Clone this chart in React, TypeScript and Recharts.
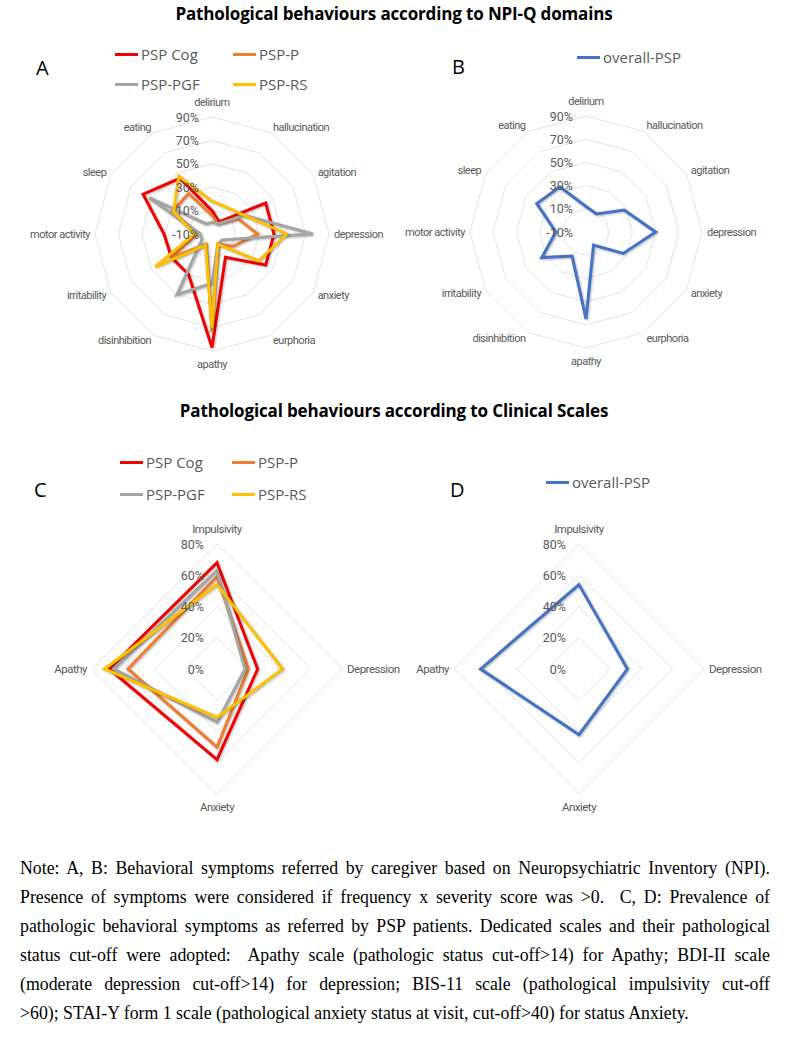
import React from "react";
import {
  RadarChart,
  Radar,
  PolarGrid,
  PolarAngleAxis,
  PolarRadiusAxis,
} from "recharts";

// NPI-Q domains (panels A, B), clockwise from the top
const npiDomains = [
  "delirium",
  "hallucination",
  "agitation",
  "depression",
  "anxiety",
  "eurphoria",
  "apathy",
  "disinhibition",
  "irritability",
  "motor activity",
  "sleep",
  "eating",
];
const npiCog = [10, 2, 43, 43, 43, 13, 87, 30, 30, 31, 58, 45];
const npiP = [6, 0, 16, 29, 11, 0, 74, 0, 31, 3, 29, 30];
const npiPGF = [0, 0, 22, 76, 0, 0, 32, 50, 0, 0, 52, 0];
const npiRS = [18, 16, 22, 54, 36, 0, 70, 1, 46, 5, 28, 47];
const npiOverall = [12, 8, 28, 50, 27, 3, 65, 14, 34, 16, 39, 35];
const npiTicks = [-10, 10, 30, 50, 70, 90];

// clinical scales (panels C, D)
const scaleItems = ["Impulsivity", "Depression", "Anxiety", "Apathy"];
const scaleCog = [68, 26, 58, 69];
const scaleP = [59, 20, 50, 57];
const scalePGF = [63, 18, 34, 66];
const scaleRS = [54, 42, 31, 72];
const scaleOverall = [54, 31, 42, 63];
const scaleTicks = [0, 20, 40, 60, 80];

const subtypes = [
  { key: "cog", name: "PSP Cog", color: "#f00000" },
  { key: "p", name: "PSP-P", color: "#ed7d31" },
  { key: "pgf", name: "PSP-PGF", color: "#a5a5a5" },
  { key: "rs", name: "PSP-RS", color: "#ffc000" },
];
const overall = [{ key: "all", name: "overall-PSP", color: "#4472c4" }];

const npiData = npiDomains.map((d, i) => ({
  label: d,
  cog: npiCog[i],
  p: npiP[i],
  pgf: npiPGF[i],
  rs: npiRS[i],
  all: npiOverall[i],
}));
const scaleData = scaleItems.map((d, i) => ({
  label: d,
  cog: scaleCog[i],
  p: scaleP[i],
  pgf: scalePGF[i],
  rs: scaleRS[i],
  all: scaleOverall[i],
}));

const GREY_TEXT = "#595959";

function makeAngleTick(cx: number, cy: number, r: number, size: number) {
  return (props: any) => {
    const { x, y, payload } = props;
    const dx = x - cx;
    const dy = y - cy;
    const len = Math.hypot(dx, dy) || 1;
    const ux = dx / len;
    const uy = dy / len;
    const px = cx + ux * (r + 5);
    const py = cy + uy * (r + 5);
    const mid = Math.abs(ux) < 0.05;
    const anchor = mid ? "middle" : ux > 0 ? "start" : "end";
    const shift = mid ? (uy < 0 ? -10 : 8) : uy * 1.5;
    return (
      <text
        x={px}
        y={py + shift}
        textAnchor={anchor}
        dominantBaseline="central"
        fontSize={size}
        fontFamily="Roboto, sans-serif"
        letterSpacing={-0.5}
        fill={GREY_TEXT}
      >
        {payload.value}
      </text>
    );
  };
}

const radiusTick = (props: any) => {
  const { x, y, payload } = props;
  return (
    <text
      x={x - 13}
      y={y}
      textAnchor="end"
      dominantBaseline="central"
      fontSize={12.5}
      fontFamily="Roboto, sans-serif"
      fill={GREY_TEXT}
    >
      {payload.value}%
    </text>
  );
};

function RadarPanel({
  data,
  series,
  left,
  top,
  width,
  height,
  cx,
  cy,
  r,
  domain,
  ticks,
  labelSize,
}: any) {
  return (
    <div style={{ position: "absolute", left, top }}>
      <RadarChart
        width={width}
        height={height}
        data={data}
        cx={cx}
        cy={cy}
        outerRadius={r}
        margin={{ top: 0, right: 0, bottom: 0, left: 0 }}
      >
        <PolarGrid gridType="polygon" radialLines={false} stroke="#e2e2e2" />
        <PolarAngleAxis
          dataKey="label"
          tick={makeAngleTick(cx, cy, r, labelSize)}
          tickLine={false}
          axisLine={false}
        />
        <PolarRadiusAxis
          angle={90}
          type="number"
          domain={domain}
          ticks={ticks}
          tickCount={ticks.length}
          axisLine={false}
          tick={radiusTick}
        />
        {series.map((s: any) => (
          <Radar
            key={s.key}
            name={s.name}
            dataKey={s.key}
            stroke={s.color}
            strokeWidth={3}
            fill="none"
            fillOpacity={0}
            dot={false}
            isAnimationActive={false}
          />
        ))}
      </RadarChart>
    </div>
  );
}

function LegendItem({ x, y, color, name, lineW = 23 }: any) {
  return (
    <div
      style={{
        position: "absolute",
        left: x,
        top: y - 11,
        height: 22,
        display: "flex",
        alignItems: "center",
        whiteSpace: "nowrap",
      }}
    >
      <div style={{ width: lineW, height: 3, background: color, marginRight: 3 }} />
      <span style={{ fontFamily: "'Open Sans', sans-serif", fontSize: 15, color: GREY_TEXT }}>
        {name}
      </span>
    </div>
  );
}

function PanelLetter({ x, y, text }: any) {
  return (
    <div
      style={{
        position: "absolute",
        left: x,
        top: y - 14,
        fontFamily: "'Open Sans', sans-serif",
        fontSize: 20,
        lineHeight: "28px",
        color: "#000",
      }}
    >
      {text}
    </div>
  );
}

function Title({ y, text }: any) {
  return (
    <div
      style={{
        position: "absolute",
        left: 0,
        width: 788,
        top: y - 12,
        textAlign: "center",
        fontFamily: "'Open Sans', sans-serif",
        fontWeight: 700,
        fontSize: 17,
        lineHeight: "24px",
        letterSpacing: -0.15,
        color: "#000",
      }}
    >
      {text}
    </div>
  );
}

const captionLines = [
  "Note: A, B: Behavioral symptoms referred by caregiver based on Neuropsychiatric Inventory (NPI).",
  "Presence of symptoms were considered if frequency x severity score was >0.\u00a0 C, D: Prevalence of",
  "pathologic behavioral symptoms as referred by PSP patients. Dedicated scales and their pathological",
  "status cut-off were adopted:\u00a0 Apathy scale (pathologic status cut-off>14) for Apathy; BDI-II scale",
  "(moderate depression cut-off>14) for depression; BIS-11 scale (pathological impulsivity cut-off",
  ">60); STAI-Y form 1 scale (pathological anxiety status at visit, cut-off>40) for status Anxiety.",
];

export default function App() {
  return (
    <div
      style={{
        position: "absolute",
        left: 0,
        top: 0,
        width: 788,
        height: 1041,
        background: "#fff",
        overflow: "hidden",
      }}
    >
      <style>{`.recharts-radar path{filter:drop-shadow(1px 1.5px 1px rgba(0,0,0,0.28));}`}</style>

      <Title y={14} text="Pathological behaviours according to NPI-Q domains" />
      <Title y={411} text="Pathological behaviours according to Clinical Scales" />

      <PanelLetter x={36} y={68} text="A" />
      <PanelLetter x={452} y={67} text="B" />
      <PanelLetter x={34} y={490} text="C" />
      <PanelLetter x={450} y={490} text="D" />

      <LegendItem x={115} y={54} color={subtypes[0].color} name={subtypes[0].name} />
      <LegendItem x={233} y={54} color={subtypes[1].color} name={subtypes[1].name} />
      <LegendItem x={115} y={84} color={subtypes[2].color} name={subtypes[2].name} />
      <LegendItem x={233} y={84} color={subtypes[3].color} name={subtypes[3].name} />
      <LegendItem x={577} y={57} color={overall[0].color} name={overall[0].name} />

      <LegendItem x={120} y={462} color={subtypes[0].color} name={subtypes[0].name} />
      <LegendItem x={232} y={462} color={subtypes[1].color} name={subtypes[1].name} />
      <LegendItem x={120} y={494} color={subtypes[2].color} name={subtypes[2].name} />
      <LegendItem x={232} y={494} color={subtypes[3].color} name={subtypes[3].name} />
      <LegendItem x={546} y={482} color={overall[0].color} name={overall[0].name} />

      <RadarPanel
        data={npiData}
        series={subtypes}
        left={0}
        top={90}
        width={394}
        height={300}
        cx={212}
        cy={144}
        r={117}
        domain={[-10, 90]}
        ticks={npiTicks}
        labelSize={11}
      />
      <RadarPanel
        data={npiData}
        series={overall}
        left={394}
        top={90}
        width={394}
        height={300}
        cx={192}
        cy={142}
        r={116}
        domain={[-10, 90]}
        ticks={npiTicks}
        labelSize={11}
      />
      <RadarPanel
        data={scaleData}
        series={subtypes}
        left={0}
        top={500}
        width={420}
        height={330}
        cx={217}
        cy={169}
        r={125}
        domain={[0, 80]}
        ticks={scaleTicks}
        labelSize={11.5}
      />
      <RadarPanel
        data={scaleData}
        series={overall}
        left={394}
        top={500}
        width={394}
        height={330}
        cx={185}
        cy={169}
        r={125}
        domain={[0, 80]}
        ticks={scaleTicks}
        labelSize={11.5}
      />

      {captionLines.map((line, i) => (
        <div
          key={i}
          style={{
            position: "absolute",
            left: 20,
            width: 750,
            top: 868 + i * 29 - 13,
            height: 26,
            lineHeight: "26px",
            fontFamily: "'Liberation Serif', 'Times New Roman', serif",
            fontSize: 17.8,
            color: "#000",
            textAlign: "justify",
            textAlignLast: i < captionLines.length - 1 ? "justify" : "left",
            whiteSpace: "nowrap",
          }}
        >
          {line}
        </div>
      ))}
    </div>
  );
}
